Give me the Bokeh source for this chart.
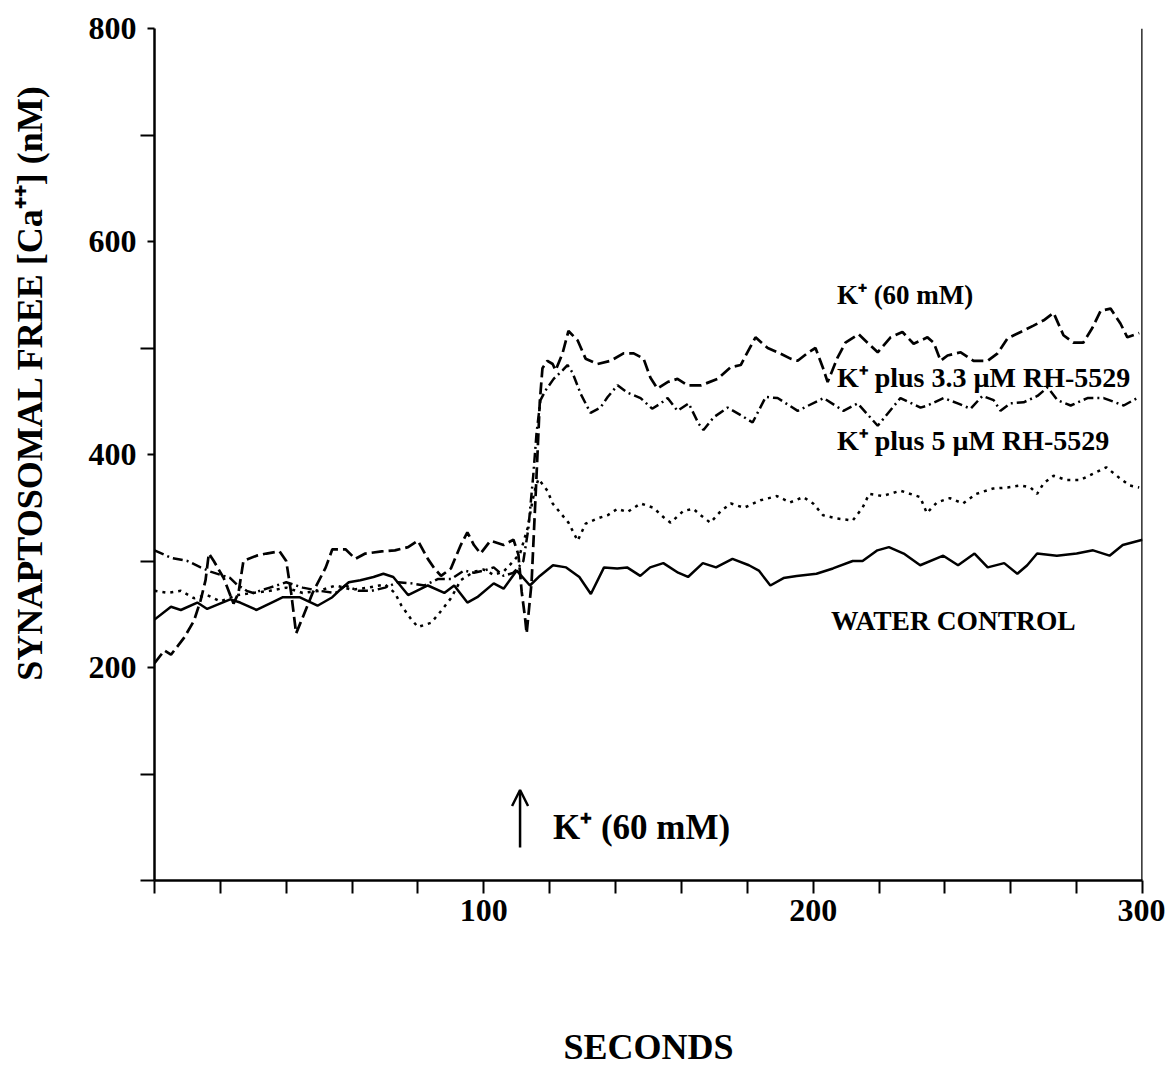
from bokeh.plotting import figure
from bokeh.models import Range1d, FixedTicker, Span, Arrow, OpenHead, Label
from bokeh.embed import file_html
from bokeh.resources import INLINE

# ---------------- data ----------------
water_t = [0, 5, 8, 13, 16, 23, 26, 31, 37, 39, 44, 49.5, 54, 56, 59, 62.5, 66.5, 69.5, 72.5, 77,
           83, 88, 91, 95, 98, 103, 106, 110, 114, 117, 121, 125, 129, 132.5, 136.5, 140.5, 143.5,
           147.5, 150.5, 154.5, 159, 162, 166.5, 170.5, 175.5, 180.5, 183.5, 187, 191, 195, 201, 206,
           212, 215, 219.5, 223, 227.5, 232.5, 239.5, 244, 249, 253, 258, 262, 265, 268, 274, 280,
           285, 290, 294, 300]
water_v = [245, 257, 254, 261, 255, 264, 261, 254, 263, 266, 266, 258, 266, 272, 280, 282, 285, 288,
           285, 268, 277, 270, 277, 261, 266, 279, 274, 291, 277, 286, 296, 294, 285, 269, 294, 293,
           294, 286, 294, 298, 289, 285, 298, 294, 302, 296, 291, 277, 284, 286, 288, 293, 300, 300,
           310, 313, 307, 296, 305, 296, 307, 294, 298, 288, 296, 307, 305, 307, 310, 305, 315, 320]

k60_t = [0, 3, 5, 9, 12, 14, 15.5, 16.5, 18, 21, 24, 25.5, 27, 31, 34, 38, 40, 41.5, 43, 45, 48, 52,
         54, 58, 61, 64, 69, 73, 77, 80, 83, 85, 87, 90, 93, 95, 97, 99, 102, 106, 109, 110.5, 111.5,
         112.5, 113, 114.5, 116, 117, 117.8, 119.3, 120.9, 121.8, 123.9, 125.7, 128.5, 130.9, 134.5,
         138.5, 142.4, 145.5, 148.5, 150.6, 152.7, 155.8, 158.8, 161.9, 166, 171, 175, 178, 180.4,
         182.5, 186.2, 189.2, 193.1, 195.3, 198.6, 200.7, 202.9, 204.4, 207.4, 209.8, 213.8, 216.5,
         219.6, 223.5, 227.1, 230.5, 234.7, 236.6, 238.7, 240.8, 244.8, 248.7, 253, 256, 259, 263,
         266.9, 270, 273, 276, 279, 282, 284.8, 287.3, 290.3, 293.3, 295.4, 299]
k60_v = [204, 216, 212, 228, 244, 263, 282, 307, 300, 284, 260, 270, 300, 305, 307, 309, 300, 270,
         232, 247, 270, 294, 311, 311, 302, 307, 309, 310, 313, 319, 302, 293, 286, 293, 315, 327,
         315, 307, 319, 315, 320, 306, 271, 247, 232, 280, 380, 450, 481, 488, 485, 479, 495, 516,
         507, 490, 485, 488, 495, 495, 490, 472, 462, 468, 471, 465, 465, 471, 482, 484, 498, 510,
         500, 496, 490, 488, 496, 500, 482, 468, 491, 505, 513, 505, 496, 510, 515, 504, 510, 505,
         488, 493, 496, 488, 488, 495, 509, 515, 521, 526, 533, 512, 505, 505, 519, 535, 537, 523,
         510, 514]

rh33_t = [0, 5, 10, 14, 17, 20, 23, 25, 28, 30, 35, 40, 45, 50, 55, 58, 62, 66, 70, 74, 78, 82, 86,
          90, 94, 97, 100, 103, 106, 109, 110.5, 112, 113.5, 115, 116, 117.2, 118.7, 121.2, 123.9,
          125.4, 126.9, 129.4, 132.4, 135.4, 137.6, 140.6, 143.6, 147.6, 151.1, 153.7, 155.8, 158.8,
          162.2, 165.2, 166.7, 169.8, 174, 178, 181.6, 185.6, 189.2, 195.3, 203.2, 209.2, 213.5,
          219.6, 226.5, 232.6, 234.7, 239.6, 243.9, 247.8, 251.4, 254.8, 256.9, 259.9, 263.9, 268.1,
          271.2, 274.2, 278.2, 283.3, 288.2, 294.3, 299]
rh33_v = [310, 303, 300, 294, 290, 287, 284, 278, 272, 270, 275, 280, 275, 272, 270, 277, 272, 272,
          275, 280, 279, 277, 283, 283, 291, 289, 291, 294, 286, 289, 294, 300, 330, 380, 420, 451,
          460, 471, 479, 484, 477, 457, 439, 444, 454, 465, 458, 453, 443, 448, 453, 441, 448, 429,
          423, 435, 444, 437, 430, 454, 453, 441, 453, 441, 448, 427, 453, 444, 446, 453, 448, 443,
          455, 451, 441, 448, 449, 455, 463, 451, 446, 453, 453, 446, 454]

rh5_t = [0, 4, 8, 12, 16, 20, 25, 30, 35, 40, 45, 50, 55, 60, 65, 70, 73, 75, 78, 80, 84, 87, 90, 93,
         97, 100, 103, 106, 109, 111, 113.3, 114.8, 115.7, 116.6, 119.3, 120.9, 123.3, 125.7, 128.5,
         130.9, 134.5, 137.6, 140.6, 143.6, 147.6, 151.5, 154.6, 156.7, 160.6, 163.6, 165.8, 168.8,
         172, 175, 179, 184, 189, 193, 197, 200, 203, 207, 212, 215, 217, 221, 226.5, 232.5, 234.5,
         237.6, 241.5, 245.5, 249.5, 254.5, 259, 263, 266, 268, 270, 273, 277, 281, 285, 289, 293,
         296, 299]
rh5_v = [272, 270, 272, 265, 268, 262, 268, 270, 272, 275, 270, 272, 277, 273, 275, 278, 270, 258,
         245, 238, 242, 253, 265, 282, 290, 292, 287, 290, 300, 307, 331, 357, 369, 377, 366, 354,
         345, 336, 319, 335, 340, 343, 349, 346, 354, 350, 341, 336, 347, 349, 343, 336, 347, 354,
         350, 357, 361, 355, 360, 354, 343, 340, 338, 350, 363, 361, 366, 360, 345, 355, 359, 354,
         363, 368, 369, 371, 369, 363, 373, 380, 376, 376, 382, 388, 378, 371, 369]

x_major = [100, 200, 300]
x_minor = [0, 20, 40, 60, 80, 120, 140, 160, 180, 220, 240, 260, 280]
y_major = [200, 400, 600, 800]
y_minor = [0, 100, 300, 500, 700]

x_title = "SECONDS"
y_title = "SYNAPTOSOMAL FREE [Ca\u207a\u207a] (nM)"

FONT = "Liberation Serif"

# ---------------- figure ----------------
p = figure(width=1165, height=1069, x_range=Range1d(0, 300), y_range=Range1d(0, 800),
           output_backend="svg", toolbar_location=None,
           min_border_left=154, min_border_right=23, min_border_top=28, min_border_bottom=189)
p.outline_line_color = None
p.xgrid.visible = False
p.ygrid.visible = False
p.background_fill_color = "white"
p.border_fill_color = "white"

for ax in (p.xaxis, p.yaxis):
    ax.axis_line_width = 2.5
    ax.axis_line_color = "black"
    ax.major_tick_line_width = 2
    ax.minor_tick_line_width = 2
    ax.major_tick_line_color = "black"
    ax.minor_tick_line_color = "black"
    ax.major_tick_in = 0
    ax.minor_tick_in = 0
    ax.major_label_text_font = FONT
    ax.major_label_text_font_style = "bold"
    ax.major_label_text_font_size = "32px"
    ax.major_label_text_color = "black"
    ax.axis_label_text_font = FONT
    ax.axis_label_text_font_style = "bold"
    ax.axis_label_text_font_size = "36px"
    ax.axis_label_text_color = "black"

p.xaxis.ticker = FixedTicker(ticks=x_major, minor_ticks=x_minor)
p.xaxis.major_tick_out = 13
p.xaxis.minor_tick_out = 13
p.xaxis.major_label_standoff = 6
p.xaxis.axis_label = x_title
p.xaxis.axis_label_standoff = 103

p.yaxis.ticker = FixedTicker(ticks=y_major, minor_ticks=y_minor)
p.yaxis.major_tick_out = 7
p.yaxis.minor_tick_out = 14
p.yaxis.major_label_standoff = 4
# leading em-spaces push the (bottom-to-top) title up, as in the reference
p.yaxis.axis_label = "\u2003\u2003\u2003\u2003" + y_title
p.yaxis.axis_label_standoff = 36

p.add_layout(Span(location=300, dimension="height", line_color="black", line_width=2.5))

# ---------------- series ----------------
p.line(water_t, water_v, line_color="black", line_width=2.5)
p.line(k60_t, k60_v, line_color="black", line_width=2.7, line_dash="12 5")
p.line(rh33_t, rh33_v, line_color="black", line_width=2.5, line_dash="10 4 2 4")
p.line(rh5_t, rh5_v, line_color="black", line_width=2.5, line_dash="3 5")

# ---------------- annotations ----------------
def lab(x, y, text, size):
    p.add_layout(Label(x=x, y=y, text=text, text_font=FONT, text_font_style="bold",
                       text_font_size=size, text_color="black", text_baseline="middle",
                       text_align="left"))

lab(207.2, 550, "K\u207a (60 mM)", "27px")
lab(207.2, 472, "K\u207a plus 3.3 \u00b5M RH-5529", "28px")
lab(207.2, 413, "K\u207a plus 5 \u00b5M RH-5529", "28px")
lab(205.4, 244, "WATER CONTROL", "27.5px")
lab(121, 50, "K\u207a (60 mM)", "35px")

p.add_layout(Arrow(x_start=111, y_start=31, x_end=111, y_end=85, line_width=2.5,
                   line_color="black",
                   end=OpenHead(size=16, line_width=2.5, line_color="black")))

open("out.html", "w").write(file_html(p, INLINE))
